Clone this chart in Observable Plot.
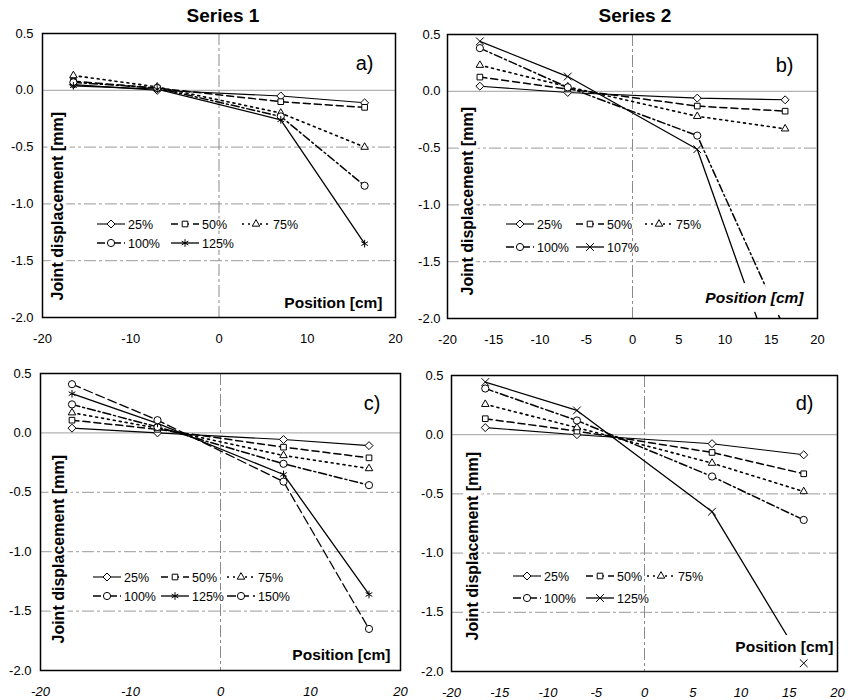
<!DOCTYPE html>
<html><head><meta charset="utf-8">
<script src="https://cdn.jsdelivr.net/npm/d3@7"></script>
<script src="https://cdn.jsdelivr.net/npm/@observablehq/plot@0.6"></script>
<style>
body{margin:0;background:#fff;font-family:Arial,"Liberation Sans",sans-serif;}
#wrap{position:relative;width:857px;height:700px;overflow:hidden;background:#fff;}
.panel{position:absolute;}
.title{position:absolute;font-weight:bold;font-size:19px;transform:translateX(-50%);white-space:nowrap;}
</style></head><body>
<div id="wrap">
<div class="title" style="left:223px;top:5px">Series 1</div>
<div class="title" style="left:635px;top:5px">Series 2</div>
</div>
<script>
// ---------- data ----------
const positions = [-16.5, -7, 7, 16.5];
const yTicks = [-2, -1.5, -1, -0.5, 0, 0.5];
const gridY = [-1.5, -1, -0.5];
const xTicks10 = [-20, -10, 0, 10, 20];
const xTicks5 = [-20, -15, -10, -5, 0, 5, 10, 15, 20];

const loadsA = ["25%", "50%", "75%", "100%", "125%"];
const a25  = [0.05, 0.00, -0.05, -0.11];
const a50  = [0.08, 0.02, -0.10, -0.15];
const a75  = [0.13, 0.03, -0.20, -0.50];
const a100 = [0.07, 0.02, -0.23, -0.84];
const a125 = [0.04, 0.01, -0.26, -1.35];

const loadsB = ["25%", "50%", "75%", "100%", "107%"];
const b25  = [0.045, -0.01, -0.06, -0.075];
const b50  = [0.125, 0.02, -0.13, -0.175];
const b75  = [0.23, 0.04, -0.22, -0.33];
const b100 = [0.38, 0.035, -0.39, -2.1];
const b107 = [0.44, 0.13, -0.51, -2.7];

const loadsC = ["25%", "50%", "75%", "100%", "125%", "150%"];
const c25  = [0.04, 0.00, -0.056, -0.107];
const c50  = [0.107, 0.03, -0.12, -0.21];
const c75  = [0.17, 0.04, -0.19, -0.30];
const c100 = [0.24, 0.05, -0.26, -0.44];
const c125 = [0.33, 0.08, -0.35, -1.36];
const c150 = [0.41, 0.107, -0.41, -1.65];

const loadsD = ["25%", "50%", "75%", "100%", "125%"];
const d25  = [0.06, 0.00, -0.076, -0.17];
const d50  = [0.135, 0.03, -0.15, -0.33];
const d75  = [0.257, 0.06, -0.24, -0.48];
const d100 = [0.39, 0.12, -0.353, -0.72];
const d125 = [0.445, 0.205, -0.65, -1.93];

// ---------- styles ----------
const baseStyles = {
  "25%":  {dash: null, width: 1.1, symbol: "diamond2"},
  "50%":  {dash: "7,4", width: 1.5, symbol: "square2"},
  "75%":  {dash: "2,4", width: 1.6, symbol: "triangle2"},
  "100%": {dash: "8,3,2,3", width: 1.5, symbol: "circle"},
  "125%": {dash: null, width: 1.3, symbol: "asterisk"},
  "107%": {dash: null, width: 1.3, symbol: "times"},
  "150%": {dash: "9,4", width: 1.3, symbol: "circle"}
};
const d3Symbols = {diamond2: d3.symbolDiamond2, square2: d3.symbolSquare2, triangle2: d3.symbolTriangle2,
  circle: d3.symbolCircle, asterisk: d3.symbolAsterisk, times: d3.symbolTimes};
const font = "Arial, 'Liberation Sans', sans-serif";
const R = 3.6;

const panels = [
  {letter: "a)", loads: loadsA, values: [a25, a50, a75, a100, a125], sym125: "asterisk",
   left: 0, top: 25, width: 415, height: 330, mL: 42, mR: 20, mT: 8, mB: 38,
   xt: xTicks10, italicX: false, yPad: 9, posItalic: false,
   posDx: -13, posDy: -14, ylDx: 15, ylDy: -17, letDx: -22, letDy: 30,
   legCols: [86, 160, 231], legRows: [191, 210]},
  {letter: "b)", loads: loadsB, values: [b25, b50, b75, b100, b107], sym125: "times",
   left: 415, top: 25, width: 442, height: 330, mL: 32, mR: 40, mT: 9, mB: 37,
   xt: xTicks5, italicX: false, yPad: 7, posItalic: true,
   posDx: -14, posDy: -20, ylDx: 20, ylDy: -23, letDx: -24, letDy: 31,
   legCols: [90, 160, 229], legRows: [190, 213]},
  {letter: "c)", loads: loadsC, values: [c25, c50, c75, c100, c125, c150], sym125: "asterisk",
   left: 0, top: 355, width: 415, height: 345, mL: 40, mR: 15, mT: 18, mB: 30,
   xt: xTicks10, italicX: true, yPad: 9, posItalic: false,
   posDx: -10, posDy: -15, ylDx: 18, ylDy: -27, letDx: -20, letDy: 30,
   legCols: [84, 152, 218], legRows: [204, 223]},
  {letter: "d)", loads: loadsD, values: [d25, d50, d75, d100, d125], sym125: "times",
   left: 415, top: 355, width: 442, height: 345, mL: 36, mR: 20, mT: 20, mB: 29,
   xt: xTicks5, italicX: true, yPad: 8, posItalic: false,
   posDx: -4, posDy: -24, ylDx: 21, ylDy: -31, letDx: -24, letDy: 28,
   legCols: [93, 166, 227], legRows: [201, 223]}
];

function styleFor(p, load) {
  const s = Object.assign({}, baseStyles[load]);
  if (load === "125%") s.symbol = p.sym125;
  return s;
}

const wrap = document.getElementById("wrap");

panels.forEach(p => {
  const rows = [];
  p.loads.forEach((load, i) => p.values[i].forEach((v, j) => rows.push({pos: positions[j], disp: v, load})));
  const marks = [
    Plot.ruleY(gridY, {stroke: "#9a9a9a", strokeWidth: 1, strokeDasharray: "12,3,3,3"}),
    Plot.ruleY([0], {stroke: "#a0a0a0", strokeWidth: 1}),
    Plot.ruleX([0], {stroke: "#8a8a8a", strokeWidth: 1, strokeDasharray: "12,3,3,3"})
  ];
  p.loads.forEach(load => {
    const st = styleFor(p, load);
    marks.push(Plot.line(rows.filter(r => r.load === load), {
      x: "pos", y: "disp", stroke: "black", strokeWidth: st.width,
      strokeDasharray: st.dash || undefined, clip: true
    }));
  });
  const posOpts = {text: d => d, frameAnchor: "bottom-right", textAnchor: "end", lineAnchor: "middle",
    dx: p.posDx, dy: p.posDy, fontWeight: "bold", fontSize: 15.5, fontStyle: p.posItalic ? "italic" : "normal"};
  const ylOpts = {text: d => d, frameAnchor: "bottom-left", rotate: -90, textAnchor: "start", lineAnchor: "middle",
    dx: p.ylDx, dy: p.ylDy, fontWeight: "bold", fontSize: 16};
  marks.push(Plot.text(["Position [cm]"], {...posOpts, fill: "white", stroke: "white", strokeWidth: 18, strokeLinejoin: "round"}));
  marks.push(Plot.text(["Joint displacement [mm]"], {...ylOpts, fill: "white", stroke: "white", strokeWidth: 7, strokeLinejoin: "round"}));
  marks.push(Plot.text(["Position [cm]"], {...posOpts, fill: "black"}));
  marks.push(Plot.text(["Joint displacement [mm]"], {...ylOpts, fill: "black"}));
  marks.push(Plot.text([p.letter], {text: d => d, frameAnchor: "top-right", textAnchor: "end", lineAnchor: "middle",
    dx: p.letDx, dy: p.letDy, fontSize: 20, fill: "black"}));
  p.loads.forEach(load => {
    const st = styleFor(p, load);
    marks.push(Plot.dot(rows.filter(r => r.load === load), {
      x: "pos", y: "disp", symbol: st.symbol, r: R, fill: "white", stroke: "black", strokeWidth: 1, clip: true
    }));
  });
  marks.push(Plot.axisX({ticks: p.xt, tickSize: 0, tickPadding: 16, tickFormat: d => String(d), label: null,
    fontStyle: p.italicX ? "italic" : "normal"}));
  marks.push(Plot.axisY({ticks: yTicks, tickSize: 0, tickPadding: p.yPad, tickFormat: d => d.toFixed(1), label: null}));
  marks.push(Plot.frame({stroke: "black", strokeWidth: 1.5}));

  const svg = Plot.plot({
    width: p.width, height: p.height,
    marginLeft: p.mL, marginRight: p.mR, marginTop: p.mT, marginBottom: p.mB,
    x: {domain: [-20, 20]},
    y: {domain: [-2, 0.5]},
    style: {fontFamily: font, fontSize: "13px", background: "transparent", overflow: "visible", color: "black"},
    marks
  });

  // in-frame legend
  const g = d3.select(svg).append("g")
    .attr("transform", `translate(${p.mL},${p.mT})`)
    .attr("font-family", font).attr("font-size", 12.5)
    .attr("text-anchor", "start");
  p.loads.forEach((load, i) => {
    const st = styleFor(p, load);
    const tx = p.legCols[i % 3], ty = p.legRows[Math.floor(i / 3)];
    g.append("line").attr("x1", tx - 31).attr("x2", tx - 3).attr("y1", ty).attr("y2", ty)
      .attr("stroke", "black").attr("stroke-width", st.width)
      .attr("stroke-dasharray", st.dash || null);
    g.append("path").attr("d", d3.symbol(d3Symbols[st.symbol], Math.PI * R * R)())
      .attr("transform", `translate(${tx - 17},${ty})`)
      .attr("fill", "white").attr("stroke", "black").attr("stroke-width", 1);
    g.append("text").attr("x", tx).attr("y", ty).attr("dy", "0.36em")
      .attr("text-anchor", "start")
      .attr("stroke", "white").attr("stroke-width", 3).attr("paint-order", "stroke")
      .attr("fill", "black").text(load);
  });

  const div = document.createElement("div");
  div.className = "panel";
  div.style.left = p.left + "px";
  div.style.top = p.top + "px";
  div.appendChild(svg);
  wrap.appendChild(div);
});
</script>
</body></html>
